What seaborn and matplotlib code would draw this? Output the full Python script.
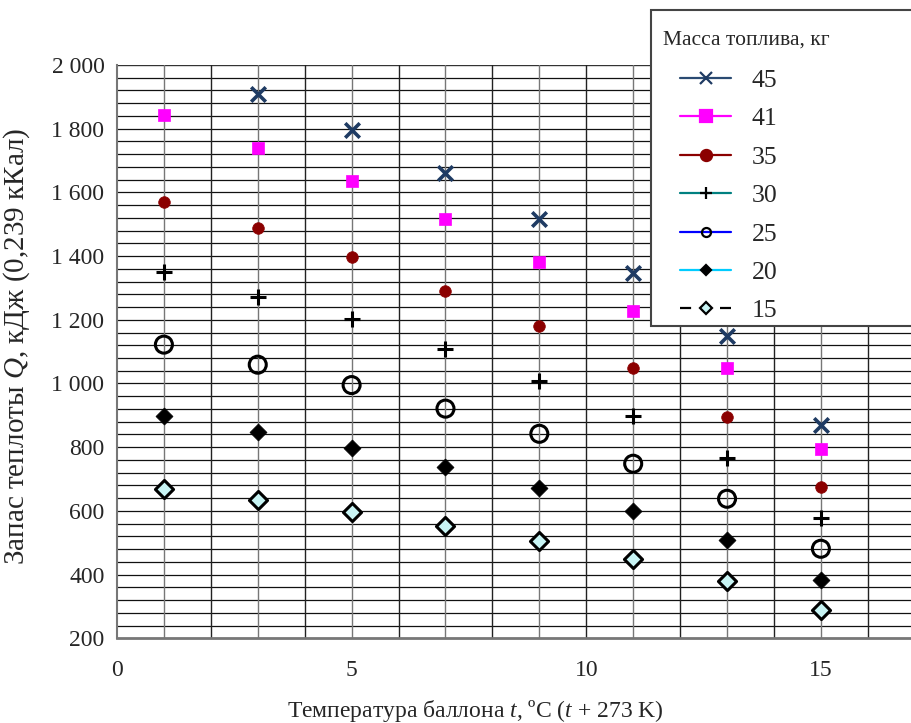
import numpy as np
import pandas as pd
import seaborn as sns
import matplotlib.pyplot as plt
from matplotlib.lines import Line2D
from matplotlib.patches import Rectangle

# температура баллона, °C
temps = [1, 3, 5, 7, 9, 11, 13, 15]

# запас теплоты Q, кДж, для каждой массы топлива
q45 = [np.nan, 1910, 1795, 1660, 1515, 1347, 1150, 870]
q41 = [1843, 1740, 1635, 1517, 1382, 1228, 1048, 795]
q35 = [1570, 1487, 1396, 1291, 1180, 1050, 895, 676]
q30 = [1349, 1272, 1201, 1108, 1008, 898, 767, 578]
q25 = [1122, 1059, 995, 921, 842, 748, 638, 481]
q20 = [898, 849, 796, 739, 672, 599, 510, 384]
q15 = [670, 633, 597, 553, 506, 448, 381, 288]

masses = ['45', '41', '35', '30', '25', '20', '15']
series = [q45, q41, q35, q30, q25, q20, q15]

y_ticks = [200, 400, 600, 800, 1000, 1200, 1400, 1600, 1800, 2000]
y_labels = ['200', '400', '600', '800', '1 000', '1 200', '1 400', '1 600', '1 800', '2 000']
x_ticks = [0, 5, 10, 15]

# стиль маркеров и линий легенды
styles = {
    '45': dict(marker='x', s=110, color='#1f3b63', edge='#1f3b63', lw=2.6, line='#2a4a72', ls='-', ms=8),
    '41': dict(marker='s', s=75, color='#ff00ff', edge='#ff00ff', lw=0.5, line='#ff00ff', ls='-', ms=8),
    '35': dict(marker='o', s=70, color='#8b0000', edge='#8b0000', lw=0.5, line='#8b0000', ls='-', ms=8),
    '30': dict(marker='+', s=120, color='black', edge='black', lw=2.2, line='#008080', ls='-', ms=8),
    '25': dict(marker='o', s=150, color='none', edge='black', lw=2.2, line='#0000ff', ls='-', ms=6.5),
    '20': dict(marker='D', s=75, color='black', edge='black', lw=0.5, line='#00ccff', ls='-', ms=5.5),
    '15': dict(marker='D', s=85, color='#c8f4f4', edge='black', lw=2.2, line='black', ls=(0, (5, 4)), ms=6),
}

rows = []
for m, vals in zip(masses, series):
    for t, q in zip(temps, vals):
        if not np.isnan(q):
            rows.append({'t': t, 'Q': q, 'mass': m})
df = pd.DataFrame(rows)

sns.set_theme(style='white')
plt.rcParams['font.family'] = ['Liberation Serif', 'DejaVu Serif']
plt.rcParams['mathtext.fontset'] = 'custom'
plt.rcParams['mathtext.rm'] = 'Liberation Serif'
plt.rcParams['mathtext.it'] = 'Liberation Serif:italic'

fig = plt.figure(figsize=(9.11, 7.23), dpi=100)
ax = fig.add_axes([0.1284, 0.1172, 0.8716, 0.7929])

# сетка
for v in np.arange(240, 2000, 40):
    ax.axhline(v, color='#111111', lw=0.9, zorder=1)
ax.axhline(2000, color='#333333', lw=1.0, zorder=1)
for i in range(1, 17):
    ax.axvline(i, color='#777777' if i % 2 else '#222222', lw=1.0, zorder=1)

for m in masses:
    st = styles[m]
    sub = df[df['mass'] == m]
    if st['marker'] in ('x', '+'):
        sns.scatterplot(data=sub, x='t', y='Q', marker=st['marker'], s=st['s'],
                        color=st['color'], linewidth=st['lw'], ax=ax, zorder=3)
    else:
        sns.scatterplot(data=sub, x='t', y='Q', marker=st['marker'], s=st['s'],
                        facecolor=st['color'], edgecolor=st['edge'], linewidth=st['lw'],
                        ax=ax, zorder=3)

ax.set_xlim(0, 16.92)
ax.set_ylim(200, 2000)
ax.set_yticks(y_ticks)
ax.set_yticklabels(y_labels)
ax.set_xticks(x_ticks)
ax.tick_params(axis='both', length=6, width=1, color='#333333', direction='out')
ax.tick_params(axis='y', labelsize=17, pad=3)
ax.tick_params(axis='x', labelsize=17, pad=10)

for side in ['top', 'right']:
    ax.spines[side].set_visible(False)
ax.spines['left'].set_color('#777777')
ax.spines['left'].set_linewidth(1.5)
ax.spines['bottom'].set_color('#777777')
ax.spines['bottom'].set_linewidth(2)

ax.set_xlabel('Температура баллона $t$, ºC ($t$ + 273 K)', fontsize=17)
ax.xaxis.set_label_coords(0.452, -0.104)
ax.set_ylabel('Запас теплоты $Q$, кДж (0,239 кКал)', fontsize=21)
ax.yaxis.set_label_coords(-0.107, 0.51)

# рамка и заголовок легенды
fig.patches.append(Rectangle((651 / 911, 1 - 326 / 723), 0.4, (326 - 10) / 723,
                             transform=fig.transFigure, facecolor='white',
                             edgecolor='#444444', lw=1.5, zorder=5))
fig.text(663 / 911, 1 - 40 / 723, 'Масса топлива, кг', fontsize=15.5,
         ha='left', va='center', zorder=6)

handles = []
for m in masses:
    st = styles[m]
    handles.append(Line2D([0], [0], color=st['line'], linestyle=st['ls'], lw=1.6,
                          marker=st['marker'], markersize=st['ms'],
                          markerfacecolor=st['color'], markeredgecolor=st['edge'],
                          markeredgewidth=1.6))
leg = fig.legend(handles, masses, loc='upper left',
                 bbox_to_anchor=(680 / 911, 1 - 69 / 723), fontsize=18.5,
                 frameon=False, handlelength=2.0, handletextpad=0.78,
                 labelspacing=0.6, borderpad=0, borderaxespad=0)
leg.set_zorder(7)

fig.savefig('out.png', dpi=100)
